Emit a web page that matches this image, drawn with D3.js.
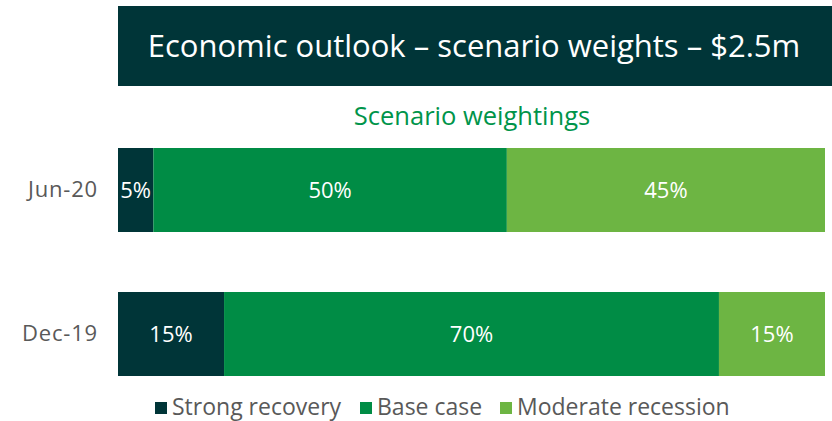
<!DOCTYPE html>
<html>
<head>
<meta charset="utf-8">
<script src="https://cdn.jsdelivr.net/npm/d3@7"></script>
<style>
  body { margin: 0; background: #fff; }
  text { font-family: "Open Sans", Lato, sans-serif; }
</style>
</head>
<body>
<div id="vis"></div>
<script>
var width = 832;
var height = 421;

// data
var periods = ["Jun-20", "Dec-19"];
var scenarios = ["Strong recovery", "Base case", "Moderate recession"];
var strongRecovery = [5, 15];
var baseCase = [50, 70];
var moderateRecession = [45, 15];
var colors = ["#003538", "#008c45", "#6db543"];

var svg = d3.select('#vis')
    .append('svg')
    .attr('width', width)
    .attr('height', height);

// title banner
svg.append('rect')
    .attr('x', 118)
    .attr('y', 6)
    .attr('width', width - 118)
    .attr('height', 80)
    .attr('fill', '#003538');

svg.append('text')
    .attr('x', 474)
    .attr('y', 57)
    .attr('text-anchor', 'middle')
    .attr('fill', '#fff')
    .style('font-size', '31px')
    .text('Economic outlook \u2013 scenario weights \u2013 $2.5m');

svg.append('text')
    .attr('x', 472)
    .attr('y', 125)
    .attr('text-anchor', 'middle')
    .attr('fill', '#00944a')
    .style('font-size', '25.5px')
    .text('Scenario weightings');

var x = d3.scaleLinear().domain([0, 100]).range([118, 825]);
var y = d3.scaleBand().domain(periods).range([148, 376]).paddingInner(0.4167);

// stack the series per period
var rows = periods.map(function (p, i) {
    return { period: p, values: [strongRecovery[i], baseCase[i], moderateRecession[i]] };
});

var yAxis = d3.axisLeft(y).tickSize(0).tickPadding(20);
var gAxis = svg.append('g')
    .attr('transform', 'translate(118,0)')
    .call(yAxis);
gAxis.select('.domain').remove();
gAxis.selectAll('text')
    .attr('fill', '#595959')
    .style('font-size', '22px')
    .style('letter-spacing', '0.8px')
    .style('font-family', '"Open Sans", sans-serif');

rows.forEach(function (row) {
    var start = 0;
    var segs = row.values.map(function (v, k) {
        var s = { x0: start, x1: start + v, v: v, k: k };
        start += v;
        return s;
    });
    var g = svg.append('g');
    g.selectAll('rect')
        .data(segs)
        .enter().append('rect')
        .attr('x', function (d) { return x(d.x0); })
        .attr('y', y(row.period))
        .attr('width', function (d) { return x(d.x1) - x(d.x0); })
        .attr('height', y.bandwidth())
        .attr('fill', function (d) { return colors[d.k]; });
    g.selectAll('text')
        .data(segs)
        .enter().append('text')
        .attr('x', function (d) { return (x(d.x0) + x(d.x1)) / 2; })
        .attr('y', y(row.period) + y.bandwidth() / 2)
        .attr('dy', '0.35em')
        .attr('text-anchor', 'middle')
        .attr('fill', '#fff')
        .style('font-size', '22px')
        .text(function (d) { return d.v + '%'; });
});

// legend
var legendX = [155, 360, 500];
var legend = svg.append('g');
scenarios.forEach(function (s, i) {
    legend.append('rect')
        .attr('x', legendX[i])
        .attr('y', 402)
        .attr('width', 12)
        .attr('height', 12)
        .attr('fill', colors[i]);
    legend.append('text')
        .attr('x', legendX[i] + 17)
        .attr('y', 415)
        .attr('fill', '#595959')
        .style('font-size', '23px')
        .text(s);
});
</script>
</body>
</html>
